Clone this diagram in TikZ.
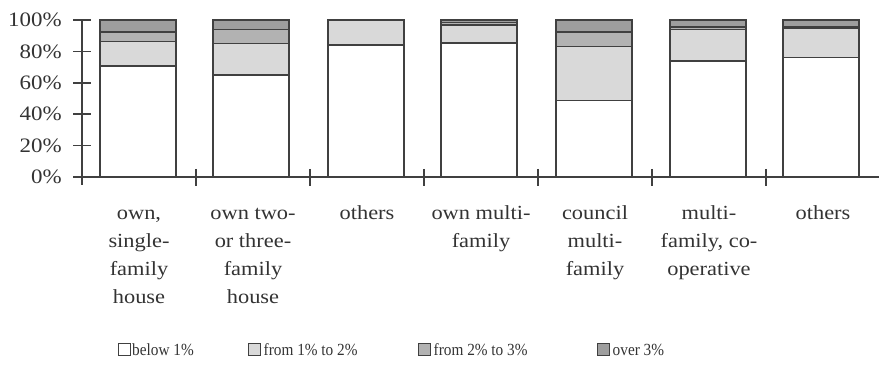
\documentclass[tikz,border=0pt]{standalone}
\usepackage{fontspec}
\setmainfont{Liberation Serif}[FakeStretch=1.12]
\newfontfamily\legfont{Liberation Serif}[FakeStretch=0.9]
\begin{document}
\begin{tikzpicture}[x=1pt,y=-1pt,
  axis/.style={draw=black!75, line width=1.5pt},
  seg/.style={draw=black!75, line width=1.6pt},
  s0/.style={seg, fill=white},
  s1/.style={seg, fill=black!15},
  s2/.style={seg, fill=black!30},
  s3/.style={seg, fill=black!38},
  ylab/.style={anchor=east, inner sep=0pt, font=\fontsize{20.5}{24}\selectfont, text=black!80},
  clab/.style={anchor=north, align=center, inner sep=0pt, font=\fontsize{20}{28}\selectfont, text=black!80},
  lbox/.style={draw=black!75, line width=1pt, minimum size=12pt, inner sep=0pt},
  ltext/.style={anchor=west, inner sep=0pt, font=\legfont\fontsize{17}{20}\selectfont, text=black!80}]
\useasboundingbox (0,0) rectangle (879,387);
% bars: left x / top of below1 / top of 1-2 / top of 2-3
\foreach \xl/\a/\b/\c in {100/70.7/86.2/92.2, 213/64.8/85/94, 328/84/100/100, 441/85.5/97/98.5, 556/48.6/83/92.2, 670/74/94/95.5, 783/76/94.5/95.5}{
  \pgfmathsetmacro\ya{177-1.57*\a}
  \pgfmathsetmacro\yb{177-1.57*\b}
  \pgfmathsetmacro\yc{177-1.57*\c}
  \pgfmathsetmacro\xr{\xl+76}
  \filldraw[s0] (\xl,177) rectangle (\xr,\ya);
  \filldraw[s1] (\xl,\ya) rectangle (\xr,\yb);
  \filldraw[s2] (\xl,\yb) rectangle (\xr,\yc);
  \filldraw[s3] (\xl,\yc) rectangle (\xr,20);
}
% axes
\coordinate (ytop) at (82,20);
\coordinate (ybot) at (82,185);
\coordinate (xl) at (82,177);
\coordinate (xr) at (879,177);
\draw[axis] (ybot) -- (ytop);
\draw[axis] (xl) -- (xr);
\foreach \p in {0,20,...,100}{
  \pgfmathsetmacro\yy{177-1.57*\p}
  \draw[axis] (73,\yy) -- (91,\yy);
  \node[ylab] (y\p) at (62,\yy) {\p\%};
}
\foreach \xx in {196,310,424,538,652,766}{
  \draw[axis] (\xx,169) -- (\xx,186);
}
% category labels
\node[clab] (c1) at (139,200) {\strut own,\\single-\\family\\house};
\node[clab] (c2) at (253,200) {\strut own two-\\or three-\\family\\house};
\node[clab] (c3) at (367,200) {\strut others};
\node[clab] (c4) at (481,200) {\strut own multi-\\family};
\node[clab] (c5) at (595,200) {\strut council\\multi-\\family};
\node[clab] (c6) at (709,200) {\strut multi-\\family, co-\\operative};
\node[clab] (c7) at (823,200) {\strut others};
% legend
\node[lbox, fill=white] (k1) at (124,350) {};
\node[ltext] (t1) at ([xshift=1.5pt]k1.east) {below 1\%};
\node[lbox, fill=black!15] (k2) at (254,350) {};
\node[ltext] (t2) at ([xshift=3pt]k2.east) {from 1\% to 2\%};
\node[lbox, fill=black!30] (k3) at (424,350) {};
\node[ltext] (t3) at ([xshift=3pt]k3.east) {from 2\% to 3\%};
\node[lbox, fill=black!38] (k4) at (603,350) {};
\node[ltext] (t4) at ([xshift=3pt]k4.east) {over 3\%};
\end{tikzpicture}
\end{document}
